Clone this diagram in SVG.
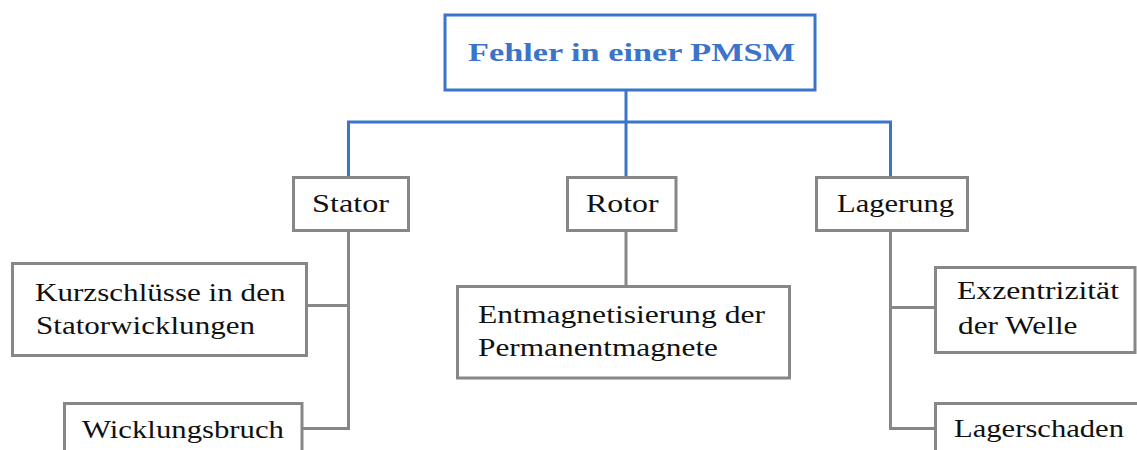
<svg xmlns="http://www.w3.org/2000/svg" width="1137" height="450" viewBox="0 0 1137 450">
  <style>
    .root rect { fill: #ffffff; stroke: #3b74c9; stroke-width: 3; }
    .node rect { fill: #ffffff; stroke: #878787; stroke-width: 3; }
    text { font-family: "Liberation Serif", "Times New Roman", Times, "DejaVu Serif", "Noto Serif", serif; font-size: 26px; }
    .lbl { fill: #111111; }
    .title { font-weight: bold; fill: #3b74c9; }
    .blue { fill: none; stroke: #3b74c9; stroke-width: 3; }
    .grey { fill: none; stroke: #878787; stroke-width: 3; }
  </style>

  <!-- connectors -->
  <g id="connectors">
    <path class="blue" d="M626,90 V177 M348.5,177 V122 H890.5 V177"/>
    <path class="grey" d="M626,230 V287"/>
    <path class="grey" d="M348.5,230 V428.5 H302 M348.5,305.5 H306.5"/>
    <path class="grey" d="M890.5,230 V428.5 H935.5 M890.5,307.5 H935.5"/>
  </g>

  <g id="root" class="root">
    <rect x="445" y="15" width="370" height="75"/>
    <text class="title" x="468" y="61" textLength="327" lengthAdjust="spacingAndGlyphs">Fehler in einer PMSM</text>
  </g>

  <g id="stator" class="node">
    <rect x="293.5" y="177.5" width="115" height="53"/>
    <text class="lbl" x="312" y="212" textLength="77" lengthAdjust="spacingAndGlyphs">Stator</text>
  </g>

  <g id="rotor" class="node">
    <rect x="567.5" y="177.5" width="108.5" height="53"/>
    <text class="lbl" x="586" y="212" textLength="72.5" lengthAdjust="spacingAndGlyphs">Rotor</text>
  </g>

  <g id="lagerung" class="node">
    <rect x="816.5" y="177.5" width="151" height="53"/>
    <text class="lbl" x="837" y="212" textLength="117" lengthAdjust="spacingAndGlyphs">Lagerung</text>
  </g>

  <g id="kurzschluesse" class="node">
    <rect x="12.5" y="263.5" width="294" height="92"/>
    <text class="lbl" x="35" y="300.5" textLength="250.5" lengthAdjust="spacingAndGlyphs">Kurzschlüsse in den</text>
    <text class="lbl" x="36" y="334" textLength="219" lengthAdjust="spacingAndGlyphs">Statorwicklungen</text>
  </g>

  <g id="wicklungsbruch" class="node">
    <rect x="64.5" y="403.5" width="237.5" height="70"/>
    <text class="lbl" x="82" y="438" textLength="202" lengthAdjust="spacingAndGlyphs">Wicklungsbruch</text>
  </g>

  <g id="entmagnetisierung" class="node">
    <rect x="457.5" y="286.5" width="332" height="91.5"/>
    <text class="lbl" x="478" y="323" textLength="287" lengthAdjust="spacingAndGlyphs">Entmagnetisierung der</text>
    <text class="lbl" x="478" y="355.5" textLength="240" lengthAdjust="spacingAndGlyphs">Permanentmagnete</text>
  </g>

  <g id="exzentrizitaet" class="node">
    <rect x="935.5" y="267.5" width="199.5" height="85"/>
    <text class="lbl" x="957" y="298.5" textLength="162" lengthAdjust="spacingAndGlyphs">Exzentrizität</text>
    <text class="lbl" x="958" y="334" textLength="119.5" lengthAdjust="spacingAndGlyphs">der Welle</text>
  </g>

  <g id="lagerschaden" class="node">
    <rect x="935.5" y="403.5" width="220" height="70"/>
    <text class="lbl" x="954" y="437" textLength="170" lengthAdjust="spacingAndGlyphs">Lagerschaden</text>
  </g>
</svg>
